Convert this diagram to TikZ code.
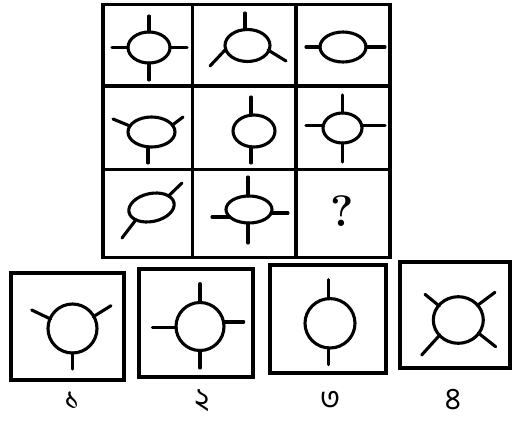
\documentclass[tikz,border=0pt]{standalone}
\usepackage{fontspec}
\newfontfamily\bnfont[Script=Bengali]{Hind Siliguri}
\usetikzlibrary{positioning}
\tikzset{
  gridline/.style={line width=3.2pt, draw=black},
  optbox/.style={rectangle, draw=black, line width=3.2pt, inner sep=0pt},
  fig/.style={line width=3.1pt, draw=black, line cap=round},
  numlabel/.style={font=\bnfont\fontsize{31}{31}\selectfont, inner sep=0pt, anchor=base, text depth=0pt},
  qmark/.style={font=\bfseries\fontsize{44}{44}\selectfont, inner sep=0pt},
}
% oval with spokes: [tilt] centre x, centre y, x radius, y radius, spokes x1/y1/x2/y2
\newcommand\ovalfig[6][0]{%
  \begin{scope}[shift={(#2,#3)}]
    \draw[fig, rotate=#1] (0,0) ellipse [x radius=#4, y radius=#5];
    \foreach \xa/\ya/\xb/\yb in {#6}
      \draw[fig] (\xa,\ya) -- (\xb,\yb);
  \end{scope}}
\begin{document}
\begin{tikzpicture}[x=1pt, y=-1pt]
  \useasboundingbox (0,0) rectangle (512,423);
  % puzzle grid
  \draw[gridline] (103,4.5) rectangle (390,257.5);
  \foreach \x in {192.5, 296}
    \draw[gridline] (\x,4.5) -- (\x,257.5);
  \foreach \y in {86, 169.5}
    \draw[gridline] (103,\y) -- (390,\y);
  % row 1
  \ovalfig{149}{47.5}{21}{15.5}{0/-15.5/0/-31.5, 0/15.5/0/32.5, -21/0/-37/0, 21/0/38/0}
  \ovalfig{247.5}{45.5}{22.5}{16}{-2.5/-16/-2.5/-32.5, -21.5/3.5/-37.5/20.5, 20.5/4.5/38.5/15.5}
  \ovalfig{343}{47}{23}{15}{-23/0/-37/0, 23/0/42/0}
  % row 2
  \ovalfig{151.5}{132}{23.5}{15}{-3.5/15/-3.5/31, -21.5/-6/-38.5/-13, 21/-7/31.5/-15}
  \ovalfig{254}{131}{21}{16}{-3/-16/-3/-34, -3/16/-3/32}
  \ovalfig{342.5}{128}{19.5}{15}{0/-15/0/-33, 0/15/0/34, -19/-2.5/-36.5/-2.5, 19/-2.5/42.5/-2.5}
  % row 3
  \ovalfig[12]{151.5}{207.5}{23}{14}{17/-11.5/30.5/-24.5, -16.5/13.5/-29.5/30.5}
  \ovalfig{249}{209.5}{23}{13.5}{-1/-13.5/-1/-32.5, -1/13.5/-1/33.5, -19.5/7.5/-37/7.5, 22/3.5/39/3.5}
  \node[qmark] (q) at (342.5,211) {?};
  % answer options
  \foreach \n/\x/\y/\w/\h in {1/67.5/326.5/113/107, 2/196/323/114/108, 3/328/319/116/108, 4/455/315/110/106}
    \node[optbox, minimum width=\w pt, minimum height=\h pt] (opt\n) at (\x,\y) {};
  \ovalfig{72.5}{328.5}{24.5}{24.5}{-22/-9.5/-40.8/-18.5, 20.8/-11.8/38.5/-22.8, 0/24.5/0/40.5}
  \ovalfig{200}{326.5}{24}{24}{0/-24/0/-42.8, 0/24/0/41.5, -24/1/-47.7/1, 23.5/-4.5/43.7/-4.5}
  \ovalfig{330}{323.3}{25}{24.7}{-1.7/-24.6/-1.7/-43.6, -1.7/24.7/-1.7/41.4}
  \ovalfig{458.3}{320}{25}{23.3}{-19/-14/-33.3/-25.7, 19/-14.5/36.7/-27.7, -18.5/15/-36.6/35, 20/13/37.4/26.7}
  % option numbers
  \foreach \n/\x/\d in {1/72/১, 2/202/২, 3/330/৩, 4/453/৪}
    \node[numlabel] (num\n) at (\x,409) {\d};
\end{tikzpicture}
\end{document}
